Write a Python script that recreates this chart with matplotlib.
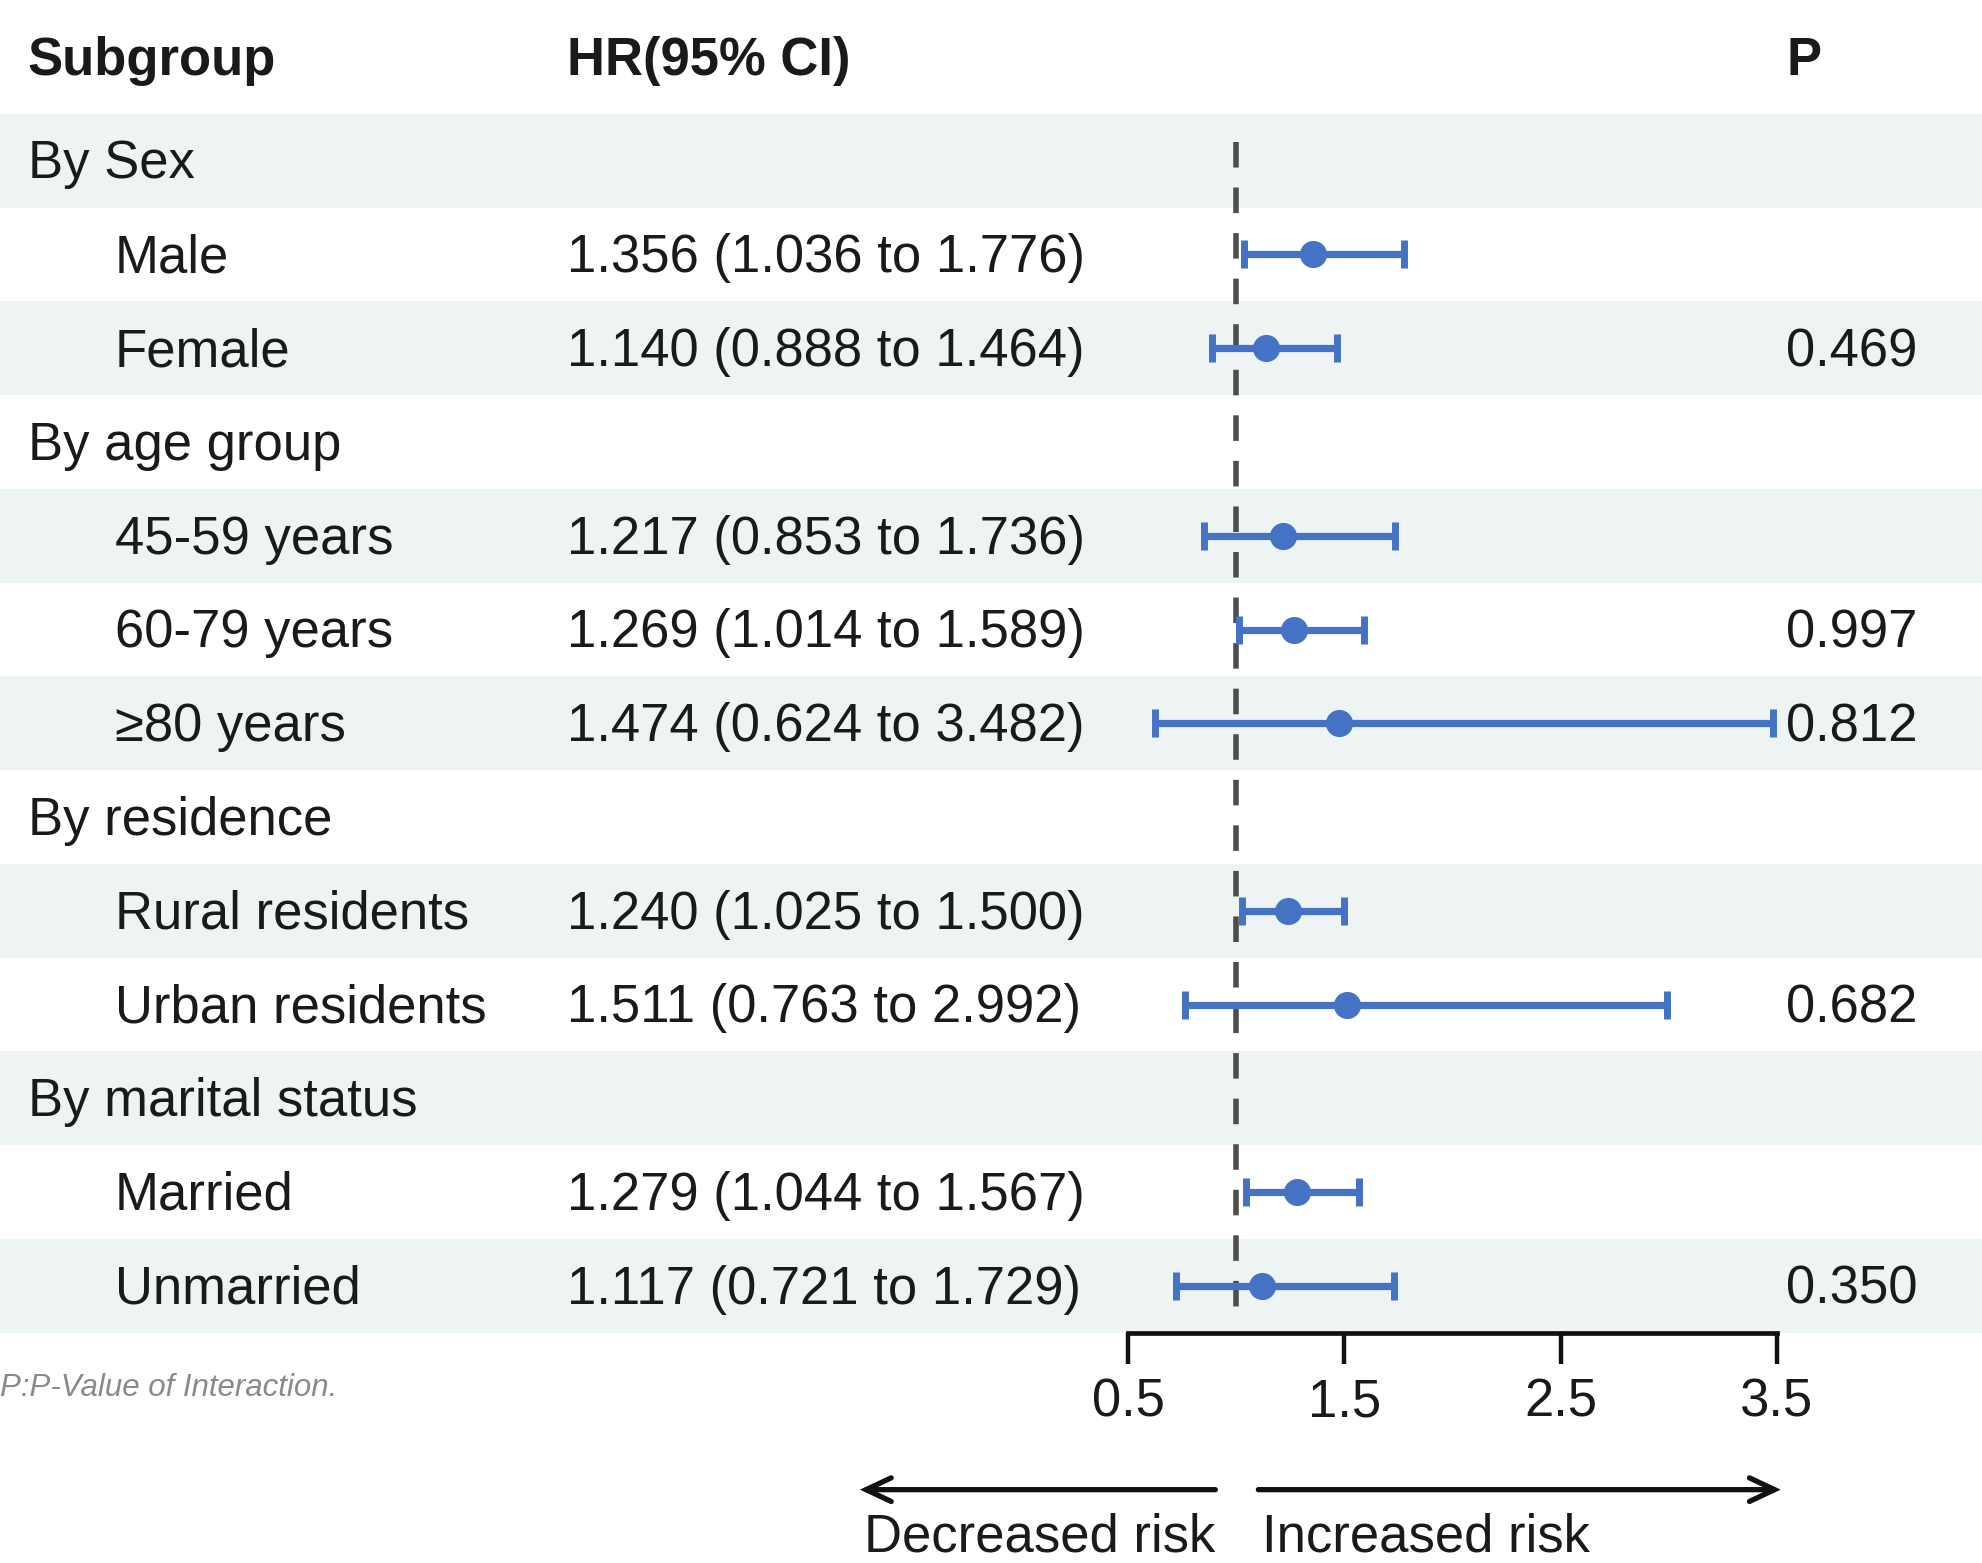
import matplotlib
matplotlib.use("Agg")
import matplotlib.pyplot as plt

plt.rcParams['font.family'] = ['Liberation Sans', 'DejaVu Sans']

# ---- data ----
labels = ["By Sex", "Male", "Female", "By age group", "45-59 years", "60-79 years",
          "≥80 years", "By residence", "Rural residents", "Urban residents",
          "By marital status", "Married", "Unmarried"]
is_group = [True, False, False, True, False, False, False, True, False, False, True, False, False]
hr = [None, 1.356, 1.140, None, 1.217, 1.269, 1.474, None, 1.240, 1.511, None, 1.279, 1.117]
lo = [None, 1.036, 0.888, None, 0.853, 1.014, 0.624, None, 1.025, 0.763, None, 1.044, 0.721]
hi = [None, 1.776, 1.464, None, 1.736, 1.589, 3.482, None, 1.500, 2.992, None, 1.567, 1.729]
pvals = ["", "", "0.469", "", "", "0.997", "0.812", "", "", "0.682", "", "", "0.350"]
xticks = [0.5, 1.5, 2.5, 3.5]
ref_line = 1.0
headers = ["Subgroup", "HR(95% CI)", "P"]
footnote = "P:P-Value of Interaction."

# ---- layout (reference layout units: 1568 x 1236) ----
W, H = 1568.0, 1236.0
row_top, row_h = 90.0, 74.15
n = len(labels)
FS = 37.9
TXT = '#1a1a1a'
BLUE = '#4472C4'
BAND = '#EEF3F3'

fig = plt.figure(figsize=(19.83, 15.63), dpi=100)
bg = fig.add_axes([0, 0, 1, 1])
bg.set_xlim(0, W)
bg.set_ylim(H, 0)
bg.axis('off')

# bands
for i in range(n):
    if i % 2 == 0:
        bg.add_patch(plt.Rectangle((0, row_top + i * row_h), W, row_h,
                                   facecolor=BAND, edgecolor='none', zorder=0))

# header
hy = 48.5
bg.text(22, hy, headers[0], fontsize=FS, fontweight='bold', color=TXT, va='center', ha='left')
bg.text(448, hy, headers[1], fontsize=FS, fontweight='bold', color=TXT, va='center', ha='left')
bg.text(1413, hy, headers[2], fontsize=FS, fontweight='bold', color=TXT, va='center', ha='left')

for i in range(n):
    yc = row_top + (i + 0.5) * row_h + 3
    x = 22 if is_group[i] else 91
    bg.text(x, yc, labels[i], fontsize=FS, color=TXT, va='center', ha='left')
    if hr[i] is not None:
        s = f"{hr[i]:.3f} ({lo[i]:.3f} to {hi[i]:.3f})"
        bg.text(448, yc, s, fontsize=FS, color=TXT, va='center', ha='left')
    if pvals[i]:
        bg.text(1516, yc, pvals[i], fontsize=FS, color=TXT, va='center', ha='right')

bg.text(0, 1098, footnote, fontsize=22.5, color='#8a8a8a', style='italic',
        va='center', ha='left')

# forest axes
x0, x1 = 892.0, 1405.0
bottom = row_top + n * row_h
ax = fig.add_axes([x0 / W, 1 - bottom / H, (x1 - x0) / W, (bottom - row_top) / H])
ax.patch.set_alpha(0)
ax.set_xlim(xticks[0], xticks[-1])
ax.set_ylim(n, 0)
for sp in ['top', 'right', 'left']:
    ax.spines[sp].set_visible(False)
ax.spines['bottom'].set_linewidth(3.4)
ax.spines['bottom'].set_color('#111111')
ax.spines['bottom'].set_capstyle('projecting')
ax.set_yticks([])
ax.set_xticks(xticks)
ax.set_xticklabels([f"{t:.1f}" for t in xticks])
ax.tick_params(axis='x', direction='out', length=22, width=3.2, color='#111111',
               labelsize=FS, labelcolor=TXT, pad=10)

ax.plot([ref_line, ref_line], [0.3, n - 0.1], color='#4d4d4d', lw=4.0,
        linestyle=(0, (4.6, 3.6)), zorder=2, clip_on=False)

for i in range(n):
    if hr[i] is None:
        continue
    ax.errorbar(hr[i], i + 0.5, xerr=[[hr[i] - lo[i]], [hi[i] - hr[i]]],
                fmt='o', color=BLUE, ecolor=BLUE, elinewidth=5.2, capsize=10,
                capthick=5.0, markersize=18.5, zorder=3, clip_on=False)

# arrows
arrow_y = 1178
style = '->,head_length=1.8,head_width=0.85'
bg.annotate("", xy=(680, arrow_y), xytext=(961, arrow_y),
            arrowprops=dict(arrowstyle=style, lw=3.8, color='#111111',
                            shrinkA=0, shrinkB=0, capstyle='round', joinstyle='miter'))
bg.annotate("", xy=(1408, arrow_y), xytext=(995, arrow_y),
            arrowprops=dict(arrowstyle=style, lw=3.8, color='#111111',
                            shrinkA=0, shrinkB=0, capstyle='round', joinstyle='miter'))
bg.text(683, 1216, "Decreased risk", fontsize=FS, color=TXT, va='center', ha='left')
bg.text(998, 1216, "Increased risk", fontsize=FS, color=TXT, va='center', ha='left')

fig.savefig("out.png", dpi=100)
